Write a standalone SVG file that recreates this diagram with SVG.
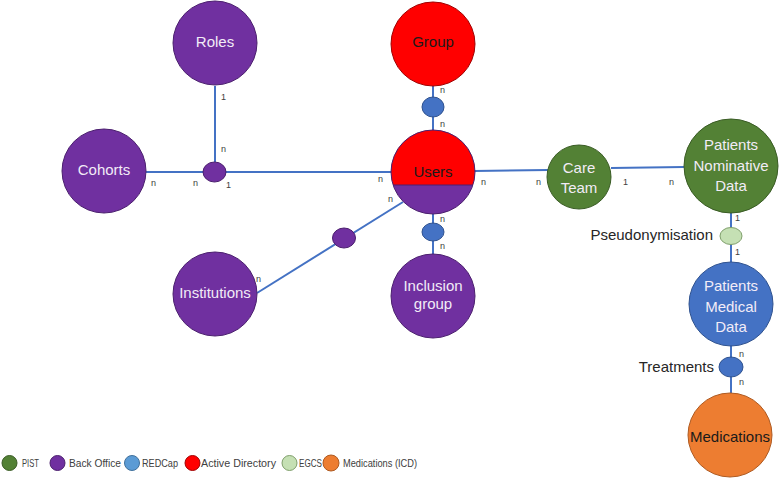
<svg xmlns="http://www.w3.org/2000/svg" width="781" height="478" viewBox="0 0 781 478">
<style>
text{font-family:"Liberation Sans",Arial,sans-serif}
.lbl{font-size:15px;text-anchor:middle}
.w{fill:#F2ECF7}
.k{fill:#1a1a1a}
.c{font-size:9px;fill:#404040}
.side{font-size:15px;fill:#262626;text-anchor:end}
.lg{font-size:10.5px;fill:#404040}
.ln{stroke:#4472C4;stroke-width:2;fill:none}
.pu{fill:#7030A0;stroke:#4B1F6E;stroke-width:1}
.rd{fill:#FF0000;stroke:#A00000;stroke-width:1}
.gr{fill:#538135;stroke:#3A5C25;stroke-width:1}
.bl{fill:#4472C4;stroke:#2F528F;stroke-width:1}
.lb{fill:#5B9BD5;stroke:#41719C;stroke-width:1}
.or{fill:#ED7D31;stroke:#AE5A21;stroke-width:1}
.lgn{fill:#C5E0B4;stroke:#7F9F6B;stroke-width:1}
</style>
<rect width="781" height="478" fill="#ffffff"/>
<g id="connectors">
<line class="ln" x1="215" y1="86" x2="215" y2="162"/>
<line class="ln" x1="146" y1="172" x2="392" y2="172"/>
<line class="ln" x1="433" y1="86" x2="433" y2="130"/>
<line class="ln" x1="433" y1="214" x2="433" y2="254"/>
<line class="ln" x1="257" y1="293" x2="403" y2="202"/>
<line class="ln" x1="474" y1="171" x2="548" y2="170"/>
<line class="ln" x1="611" y1="168" x2="684" y2="167"/>
<line class="ln" x1="731" y1="212" x2="731" y2="262"/>
<line class="ln" x1="731" y1="345" x2="731" y2="393"/>
<g class="c">
<text x="221" y="100">1</text>
<text x="221" y="152">n</text>
<text x="151" y="186">n</text>
<text x="193" y="186">n</text>
<text x="226" y="188">1</text>
<text x="378" y="182">n</text>
<text x="388" y="202">n</text>
<text x="440" y="93">n</text>
<text x="440" y="127">n</text>
<text x="440" y="222">n</text>
<text x="440" y="249">n</text>
<text x="256" y="282">n</text>
<text x="481" y="185">n</text>
<text x="536" y="185">n</text>
<text x="623" y="185">1</text>
<text x="669" y="185">n</text>
<text x="735" y="221">1</text>
<text x="735" y="255">1</text>
<text x="739" y="357">n</text>
<text x="739" y="385">n</text>
</g>
</g>
<g id="roles"><circle class="pu" cx="215" cy="43" r="42"/><text class="lbl w" x="215" y="47">Roles</text></g>
<g id="cohorts"><circle class="pu" cx="104" cy="171" r="42"/><text class="lbl w" x="104" y="175">Cohorts</text></g>
<g id="j-roles"><ellipse class="pu" cx="214.5" cy="172" rx="11.5" ry="10"/></g>
<g id="group"><circle class="rd" cx="433" cy="44" r="42"/><text class="lbl k" x="433" y="47">Group</text></g>
<g id="j-group"><ellipse class="bl" cx="433" cy="107" rx="11" ry="10"/></g>
<g id="users">
<path d="M393.1,185 A42,42 0 1 1 472.9,185 Z" fill="#FF0000"/>
<path d="M393.1,185 A42,42 0 0 0 472.9,185 Z" fill="#7030A0"/>
<line x1="393.1" y1="185" x2="472.9" y2="185" stroke="#4B1F6E" stroke-width="1"/>
<circle cx="433" cy="172" r="42" fill="none" stroke="#4B1F6E" stroke-width="1"/>
<text class="lbl k" x="433" y="177">Users</text>
</g>
<g id="j-inclusion"><ellipse class="bl" cx="433" cy="232" rx="11" ry="9"/></g>
<g id="inclusion-group"><circle class="pu" cx="433" cy="296" r="42"/><text class="lbl w" x="433" y="291">Inclusion</text><text class="lbl w" x="433" y="309">group</text></g>
<g id="j-institutions"><ellipse class="pu" cx="344" cy="238" rx="11.5" ry="10"/></g>
<g id="institutions"><circle class="pu" cx="215" cy="294" r="42"/><text class="lbl w" x="215" y="298">Institutions</text></g>
<g id="care-team"><circle class="gr" cx="579" cy="177" r="32"/><text class="lbl w" x="579" y="173">Care</text><text class="lbl w" x="579" y="193">Team</text></g>
<g id="patients-nominative"><circle class="gr" cx="731" cy="166" r="47"/><text class="lbl w" x="731" y="150">Patients</text><text class="lbl w" x="731" y="171">Nominative</text><text class="lbl w" x="731" y="191">Data</text></g>
<g id="pseudonymisation"><ellipse class="lgn" cx="731" cy="236" rx="11" ry="8.5"/><text class="side" x="713" y="240">Pseudonymisation</text></g>
<g id="patients-medical"><circle class="bl" cx="731" cy="304" r="42"/><text class="lbl w" x="731" y="291">Patients</text><text class="lbl w" x="731" y="312">Medical</text><text class="lbl w" x="731" y="332">Data</text></g>
<g id="treatments"><ellipse class="bl" cx="731" cy="367" rx="12" ry="10"/><text class="side" x="714" y="372">Treatments</text></g>
<g id="medications"><circle class="or" cx="730" cy="435" r="42"/><text class="lbl k" x="730" y="442" font-size="15.5">Medications</text></g>
<g id="legend">
<circle class="gr" cx="9.5" cy="463" r="7.5"/><text class="lg" x="22" y="467" textLength="17" lengthAdjust="spacingAndGlyphs">PIST</text>
<circle class="pu" cx="57.5" cy="463" r="7.5"/><text class="lg" x="69" y="467" textLength="52" lengthAdjust="spacingAndGlyphs">Back Office</text>
<circle class="lb" cx="132" cy="463" r="7.5"/><text class="lg" x="142" y="467" textLength="36" lengthAdjust="spacingAndGlyphs">REDCap</text>
<circle class="rd" cx="192.5" cy="463" r="7.5"/><text class="lg" x="201" y="467" textLength="75" lengthAdjust="spacingAndGlyphs">Active Directory</text>
<circle class="lgn" cx="289.5" cy="463" r="7.5"/><text class="lg" x="299" y="467" textLength="23" lengthAdjust="spacingAndGlyphs">EGCS</text>
<circle class="or" cx="331" cy="463" r="8"/><text class="lg" x="343" y="467" textLength="74" lengthAdjust="spacingAndGlyphs">Medications (ICD)</text>
</g>
</svg>
